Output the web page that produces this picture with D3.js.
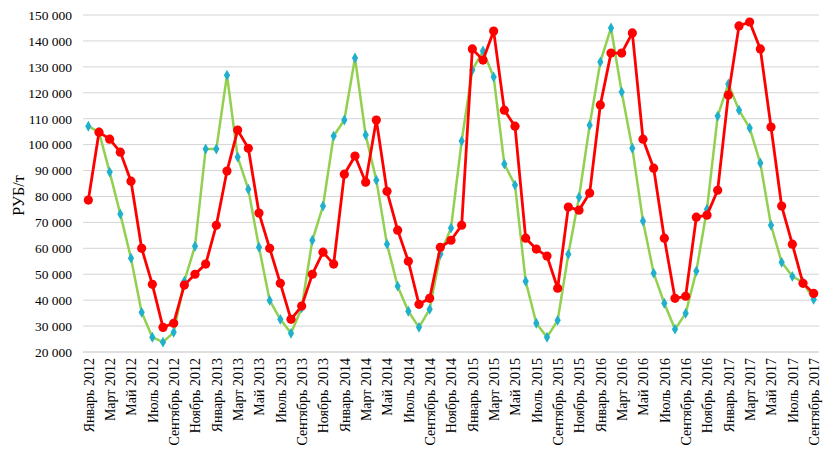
<!DOCTYPE html>
<html>
<head>
<meta charset="utf-8">
<script src="https://cdn.jsdelivr.net/npm/d3@7"></script>
<style>
  body { margin: 0; background: #fff; }
  text { font-family: "Liberation Serif", "Times New Roman", serif; fill: #000; }
</style>
</head>
<body>
<svg id="chart" width="834" height="462"></svg>
<script>
const MONTHS = ["Январь", "Февраль", "Март", "Апрель", "Май", "Июнь", "Июль", "Август", "Сентябрь", "Октябрь", "Ноябрь", "Декабрь"];
const YEARS = [2012, 2013, 2014, 2015, 2016, 2017];

// Jan 2012 .. Sep 2017
const categories = [];
YEARS.forEach((y) => MONTHS.forEach((m, i) => {
  if (y < 2017 || i < 9) categories.push(`${m} ${y}`);
}));

const greenSeries = [
  107100, 104800, 89400, 73200, 56200, 35300, 25700, 23800, 27600, 47300, 60800, 98300,
  98300, 126800, 95200, 82800, 60400, 39900, 32600, 27200, 37000, 63100, 76300, 103300,
  109500, 133400, 103700, 86300, 61600, 45400, 35700, 29500, 36500, 57700, 67800, 101400,
  128800, 136100, 126100, 92500, 84400, 47300, 31100, 25700, 32200, 57700, 79700, 107500,
  131900, 145000, 120300, 98600, 70500, 50400, 38800, 28800, 34900, 51200, 75100, 111000,
  123400, 113300, 106400, 92900, 68900, 54600, 49200, 46900, 40300
];

const redSeries = [
  78600, 104800, 102100, 97100, 85900, 60000, 46100, 29500, 31100, 45800, 50000, 53900,
  68900, 89800, 105600, 98600, 73600, 60000, 46500, 32600, 37700, 50000, 58500, 53900,
  88600, 95600, 85500, 109500, 82000, 67000, 55000, 38400, 40700, 60400, 63100, 68900,
  136900, 132600, 143800, 113300, 107100, 63900, 59700, 57000, 44600, 75900, 74700, 81300,
  115300, 135300, 135300, 143100, 102100, 90900, 63900, 40700, 41500, 72000, 72800, 82400,
  119100, 145800, 147300, 136900, 106800, 76300, 61600, 46500, 42600
];

const yTicks = d3.range(20000, 150001, 10000);

const svg = d3.select("#chart");
const margin = { left: 83, right: 15, top: 15, bottom: 110 };
const width = 834, height = 462;

const x = d3.scalePoint()
  .domain(categories)
  .range([margin.left, width - margin.right])
  .padding(0.5);

const y = d3.scaleLinear()
  .domain([20000, 150000])
  .range([height - margin.bottom, margin.top]);

const fmt = (v) => d3.format(",")(v).replace(/,/g, " ");

// grid
svg.append("g")
  .selectAll("line")
  .data(yTicks)
  .join("line")
  .attr("x1", margin.left)
  .attr("x2", width - margin.right)
  .attr("y1", (d) => y(d))
  .attr("y2", (d) => y(d))
  .attr("stroke", (d) => (d === 20000 ? "#bfbfbf" : "#d4d4d4"))
  .attr("stroke-width", 1);

// y axis labels
const yAxis = svg.append("g")
  .attr("transform", `translate(${margin.left},0)`)
  .call(d3.axisLeft(y).tickValues(yTicks).tickSize(0).tickPadding(11).tickFormat(fmt));
yAxis.select(".domain").remove();
yAxis.selectAll("text")
  .attr("font-size", 13.5)
  .style("font-family", "'Liberation Serif', serif");

// x axis labels
const xAxis = svg.append("g")
  .attr("transform", `translate(0,${height - margin.bottom})`)
  .call(d3.axisBottom(x)
    .tickValues(categories.filter((d, i) => i % 2 === 0))
    .tickSize(0)
    .tickPadding(0));
xAxis.select(".domain").remove();
xAxis.selectAll("text")
  .attr("font-size", 14)
  .style("font-family", "'Liberation Serif', serif")
  .attr("text-anchor", "end")
  .attr("dy", "0.35em")
  .attr("transform", "translate(0,6) rotate(-90)")
  .attr("x", 0)
  .attr("y", 0);

// y title
svg.append("text")
  .attr("transform", `translate(24,${(margin.top + height - margin.bottom) / 2 + 12}) rotate(-90)`)
  .attr("text-anchor", "middle")
  .attr("font-size", 16)
  .text("РУБ/т");

const line = d3.line()
  .x((d, i) => x(categories[i]))
  .y((d) => y(d));

// green series
svg.append("path")
  .datum(greenSeries)
  .attr("d", line)
  .attr("fill", "none")
  .attr("stroke", "#92d050")
  .attr("stroke-width", 2.5)
  .attr("stroke-linejoin", "round");

svg.append("g")
  .selectAll("path")
  .data(greenSeries)
  .join("path")
  .attr("d", d3.symbol(d3.symbolDiamond, 34))
  .attr("transform", (d, i) => `translate(${x(categories[i])},${y(d)})`)
  .attr("fill", "#21b0cc");

// red series
svg.append("path")
  .datum(redSeries)
  .attr("d", line)
  .attr("fill", "none")
  .attr("stroke", "#ff0000")
  .attr("stroke-width", 2.8)
  .attr("stroke-linejoin", "round");

svg.append("g")
  .selectAll("circle")
  .data(redSeries)
  .join("circle")
  .attr("cx", (d, i) => x(categories[i]))
  .attr("cy", (d) => y(d))
  .attr("r", 4.6)
  .attr("fill", "#ff0000");
</script>
</body>
</html>
